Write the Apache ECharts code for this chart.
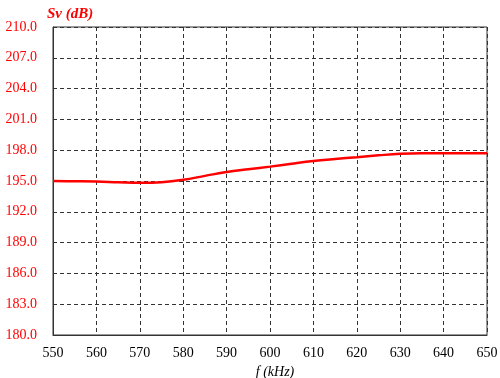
<!DOCTYPE html>
<html><head><meta charset="utf-8">
<script src="https://cdn.jsdelivr.net/npm/echarts@6/dist/echarts.min.js"></script>
<style>html,body{margin:0;padding:0;background:#fff}#c{width:500px;height:378px}</style>
</head><body><div id="c"></div>
<script>
const freq = [550,555,560,565,570,575,580,585,590,595,600,605,610,615,620,625,630,635,640,645,650];
const sv =   [195.0,194.98,194.95,194.88,194.82,194.88,195.12,195.5,195.88,196.15,196.4,196.68,196.94,197.14,197.32,197.5,197.65,197.7,197.7,197.7,197.7];
const yTicks = {min:180, max:210, step:3};
const xTicks = {min:550, max:650, step:10};
const chart = echarts.init(document.getElementById('c'));
const serif = '"Liberation Serif","Times New Roman",serif';
chart.setOption({
  animation:false,
  title:{text:'Sv (dB)', left:42, top:2, textStyle:{color:'#ff0000', fontFamily:serif, fontStyle:'italic', fontWeight:'bold', fontSize:15}},
  grid:{left:53, right:13, top:27, bottom:43, show:true, borderColor:'#333', borderWidth:1, containLabel:false, outerBoundsMode:'none'},
  xAxis:{type:'value', min:xTicks.min, max:xTicks.max, interval:xTicks.step,
    name:'f (kHz)', nameLocation:'middle', nameGap:27,
    nameTextStyle:{color:'#000', fontFamily:serif, fontStyle:'italic', fontSize:14, padding:[0,0,0,10]},
    axisLine:{lineStyle:{color:'#333'}}, axisTick:{show:false},
    axisLabel:{color:'#000', fontFamily:serif, fontSize:14, margin:11},
    splitLine:{show:true, lineStyle:{color:'#333', type:[4,3], width:1}}},
  yAxis:{type:'value', min:yTicks.min, max:yTicks.max, interval:yTicks.step,
    axisLine:{show:true, lineStyle:{color:'#333'}}, axisTick:{show:false},
    axisLabel:{color:'#ff0000', fontFamily:serif, fontSize:14, margin:16, formatter:v=>v.toFixed(1)},
    splitLine:{show:true, lineStyle:{color:'#333', type:[4,3], width:1}}},
  series:[{type:'line', data:freq.map((f,i)=>[f,sv[i]]), smooth:0.4, showSymbol:false,
    lineStyle:{color:'#ff0000', width:2.5}}]
});
</script></body></html>
